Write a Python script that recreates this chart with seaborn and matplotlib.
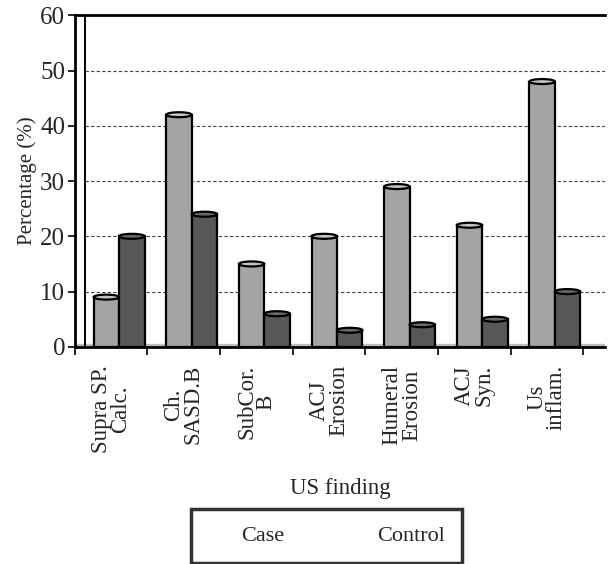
import pandas as pd
import matplotlib
matplotlib.use("Agg")
import matplotlib.pyplot as plt
import seaborn as sns
from matplotlib.patches import Ellipse, Rectangle

# Data
findings = [
    "Supra SP.\nCalc.",
    "Ch.\nSASD.B",
    "SubCor.\nB",
    "ACJ\nErosion",
    "Humeral\nErosion",
    "ACJ\nSyn.",
    "Us\ninflam.",
]
case_pct = [9, 42, 15, 20, 29, 22, 48]
control_pct = [20, 24, 6, 3, 4, 5, 10]
groups = ["Case", "Control"]
y_ticks = [0, 10, 20, 30, 40, 50, 60]

df = pd.DataFrame(
    {
        "finding": findings * 2,
        "group": [groups[0]] * len(findings) + [groups[1]] * len(findings),
        "pct": case_pct + control_pct,
    }
)

sns.set_style("white")
plt.rcParams["font.family"] = ["Liberation Serif", "DejaVu Serif"]

colors = {"Case": "#a4a4a4", "Control": "#575757"}
cap_colors = {"Case": "#c4c4c4", "Control": "#6a6a6a"}

fig = plt.figure(figsize=(6.08, 5.64), dpi=100)
ax = fig.add_axes([0.123, 0.385, 0.872, 0.588])

sns.barplot(
    data=df,
    x="finding",
    y="pct",
    hue="group",
    order=findings,
    hue_order=groups,
    palette=colors,
    width=0.7,
    edgecolor="black",
    linewidth=1.6,
    saturation=1,
    legend=False,
    ax=ax,
)

# pseudo-3D: bars sit a little to the right of the category slot, with caps
depth_shift = 0.11
for container, grp in zip(ax.containers, groups):
    for bar in container:
        bar.set_x(bar.get_x() + depth_shift)
        x0 = bar.get_x()
        w = bar.get_width()
        h = bar.get_height()
        bar.set_zorder(3)
        cap = Ellipse(
            (x0 + w / 2, h),
            width=w,
            height=0.9,
            facecolor=cap_colors[grp],
            edgecolor="black",
            linewidth=1.6,
            zorder=4,
        )
        ax.add_patch(cap)

ax.set_xlim(-0.5, 6.8)
ax.set_ylim(0, 60)
ax.set_yticks(y_ticks)
ax.tick_params(axis="y", labelsize=18, length=5, width=1.4, direction="out", left=True, pad=2)

# category labels at centers, tick marks between groups
ax.set_xticks(range(len(findings)))
ax.set_xticklabels(findings, rotation=90, fontsize=16.5, linespacing=0.9)
ax.tick_params(axis="x", length=0, pad=13)
ax.set_xticks([i - 0.5 for i in range(len(findings) + 1)], minor=True)
ax.tick_params(axis="x", which="minor", length=6, width=1.4, direction="out", bottom=True)

# back wall edge and dashed gridlines
ax.axvline(-0.36, color="black", linewidth=1.4, zorder=2)
ax.axhspan(0, 0.6, xmin=0.0, xmax=1.0, color="#bdbdbd", zorder=1)
for yv in y_ticks[1:-1]:
    ax.axhline(yv, xmin=0.02, color="#444444", linestyle=(0, (3, 2)), linewidth=0.8, zorder=1)

for side in ["left", "bottom", "top"]:
    ax.spines[side].set_visible(True)
    ax.spines[side].set_linewidth(2)
    ax.spines[side].set_color("black")
ax.spines["right"].set_visible(False)

ax.set_ylabel("Percentage (%)", fontsize=15, labelpad=2)
ax.set_xlabel("US finding", fontsize=16.5, labelpad=18)

handles = [Rectangle((0, 0), 1, 1, facecolor="none", edgecolor="none") for _ in groups]
leg = fig.legend(
    handles,
    groups,
    loc="center",
    bbox_to_anchor=(0.537, 0.05),
    ncol=2,
    frameon=True,
    fancybox=False,
    fontsize=16,
    handlelength=1.0,
    handletextpad=0.5,
    columnspacing=2.7,
    borderpad=0.75,
    borderaxespad=0,
)
leg.get_frame().set_edgecolor("black")
leg.get_frame().set_linewidth(2.5)

plt.savefig("out.png", dpi=100)
plt.close()
